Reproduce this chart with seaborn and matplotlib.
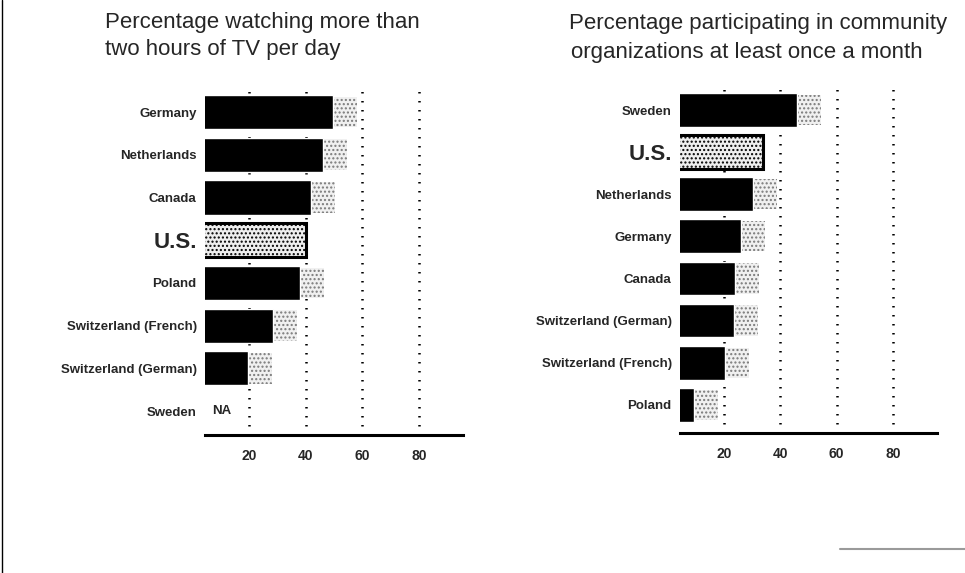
import numpy as np
import pandas as pd
import matplotlib.pyplot as plt
import seaborn as sns
from matplotlib.lines import Line2D

# data
tv_countries = ["Germany", "Netherlands", "Canada", "U.S.", "Poland",
                "Switzerland (French)", "Switzerland (German)", "Sweden"]
tv_pct = [49.5, 46, 42, 40, 38, 28.5, 19.5, np.nan]

org_countries = ["Sweden", "U.S.", "Netherlands", "Germany", "Canada",
                 "Switzerland (German)", "Switzerland (French)", "Poland"]
org_pct = [46, 34, 30.5, 26, 24, 23.5, 20.5, 9.5]

grid_vals = [20, 40, 60, 80]
minor_vals = [10, 30, 50, 70, 90]

SHADOW = 8.5  # width of the stippled drop shadow, in axis units

sns.set_theme(style="white")
plt.rcParams["font.family"] = ["Liberation Sans", "DejaVu Sans"]
plt.rcParams["hatch.linewidth"] = 1.0

W, H = 965, 573
fig = plt.figure(figsize=(W / 100, H / 100), dpi=100)


def panel(left, right, top, bottom, countries, pct, ylim):
    ax = fig.add_axes([left / W, 1 - bottom / H, (right - left) / W, (bottom - top) / H])
    df = pd.DataFrame({"country": countries, "pct": pct})
    df["shadow"] = df["pct"] + SHADOW
    df.loc[df["country"] == "U.S.", "shadow"] = np.nan

    sns.barplot(data=df.dropna(subset=["shadow"]), x="shadow", y="country", order=countries,
                color="#f0f0f0", saturation=1, width=0.72, ax=ax, errorbar=None,
                hatch="....", edgecolor="#7a7a7a", linewidth=0, zorder=2)
    sns.barplot(data=df.dropna(subset=["pct"]), x="pct", y="country", order=countries,
                color="black", saturation=1, width=0.8, ax=ax, errorbar=None, zorder=3)

    us = countries.index("U.S.")
    for p in ax.patches:
        if abs(p.get_y() + p.get_height() / 2 - us) < 0.01 and p.get_height() > 0.75:
            p.set_facecolor("#eeeeee")
            p.set_hatch("....")
            p.set_edgecolor("black")
            p.set_linewidth(2.2)

    for v in grid_vals:
        ax.axvline(v, color="black", lw=1.8, ls=(0, (0.6, 3)), zorder=1)

    ax.set_xlim(4.5, 95.5)
    ax.set_ylim(*ylim)
    ax.set_xlabel("")
    ax.set_ylabel("")
    ax.set_xticks(grid_vals)
    ax.set_xticklabels([str(v) for v in grid_vals], fontsize=10, fontweight="bold")
    ax.set_xticks(minor_vals, minor=True)
    ax.tick_params(axis="x", which="major", length=0, pad=10)
    ax.tick_params(axis="x", which="minor", length=4, width=1.8, direction="out", color="black")
    ax.set_yticks(range(len(countries)))
    ax.set_yticklabels(countries)
    for lab in ax.get_yticklabels():
        lab.set_fontweight("bold")
        lab.set_fontsize(16 if lab.get_text() == "U.S." else 9.5)
    ax.tick_params(axis="y", length=0, pad=6)
    for s in ["top", "right", "left"]:
        ax.spines[s].set_visible(False)
    ax.spines["bottom"].set_linewidth(2.2)
    ax.spines["bottom"].set_color("black")
    ax.set_facecolor("none")
    return ax


axL = panel(205, 463, 86, 435, tv_countries, tv_pct, (7.56, -0.61))
axR = panel(680, 937, 86, 433, org_countries, org_pct, (7.67, -0.57))

axL.text(7, tv_countries.index("Sweden"), "NA", va="center", ha="left",
         fontsize=9.5, fontweight="bold")

fig.text(105 / W, 1 - 28 / H, "Percentage watching more than", fontsize=16, va="baseline")
fig.text(105 / W, 1 - 55 / H, "two hours of TV per day", fontsize=16, va="baseline")
fig.text(569 / W, 1 - 29 / H, "Percentage participating in community", fontsize=16, va="baseline")
fig.text(571 / W, 1 - 58 / H, "organizations at least once a month", fontsize=16, va="baseline")

fig.add_artist(Line2D([0.002, 0.002], [0, 1], color="black", lw=1))
fig.add_artist(Line2D([840 / W, 1], [1 - 549 / H] * 2, color="#9a9a9a", lw=1.5))

fig.savefig("out.png", dpi=100)
